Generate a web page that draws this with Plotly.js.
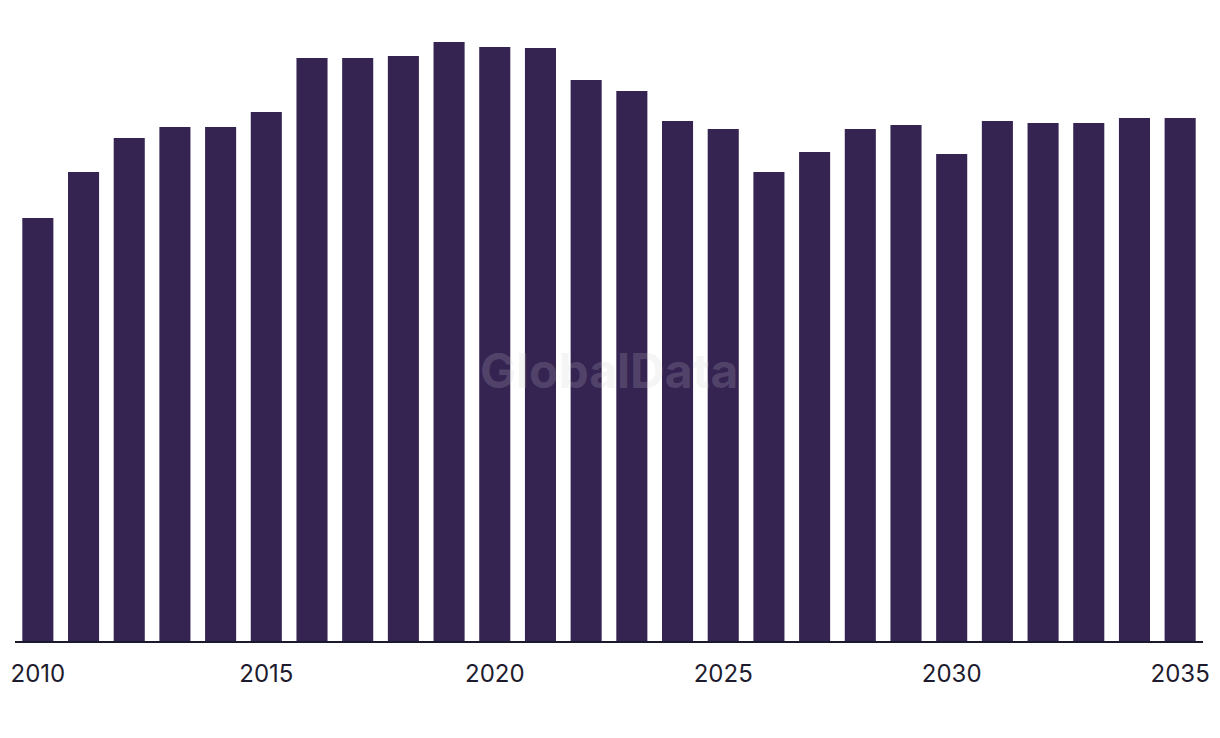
<!DOCTYPE html>
<html>
<head>
<meta charset="utf-8">
<script src="https://cdn.plot.ly/plotly-3.0.1.min.js"></script>
<style>html,body{margin:0;padding:0;background:#fff;}#chart{width:1220px;height:738px;}</style>
</head>
<body>
<div id="chart"></div>
<script>
const years = [2010,2011,2012,2013,2014,2015,2016,2017,2018,2019,2020,2021,2022,2023,2024,2025,2026,2027,2028,2029,2030,2031,2032,2033,2034,2035];
const values = [423,469,503,514,514,529,583,583,585,599,594,593,561,550,520,512,469,489,512,516,487,520,518,518,523,523];
const tickYears = [2010,2015,2020,2025,2030,2035];
const tickLabels = ["2010","2015","2020","2025","2030","2035"];

const trace = {
  type: 'bar',
  x: years,
  y: values,
  marker: {color: '#352352'},
  hoverinfo: 'x+y'
};
const layout = {
  width: 1220, height: 738,
  margin: {l: 15, r: 17, t: 20, b: 97},
  paper_bgcolor: '#ffffff',
  plot_bgcolor: '#ffffff',
  bargap: 0.32,
  showlegend: false,
  font: {family: 'Inter, "Noto Sans", sans-serif', color: '#1e1b2e'},
  xaxis: {
    range: [2009.5, 2035.5],
    tickvals: tickYears,
    ticktext: tickLabels,
    ticks: 'outside', ticklen: 11, tickcolor: 'rgba(0,0,0,0)',
    tickfont: {family: 'Inter, "Noto Sans", sans-serif', size: 24, color: '#1e1b2e'},
    showline: true, linecolor: '#1a1a2e', linewidth: 1.5,
    showgrid: false, zeroline: false, fixedrange: true
  },
  yaxis: {
    range: [0, 621],
    visible: false, showgrid: false, zeroline: false, fixedrange: true
  },
  annotations: [{
    text: '<b>GlobalData</b>',
    xref: 'paper', yref: 'paper', x: 0.5, y: 0.435,
    xanchor: 'center', yanchor: 'middle', showarrow: false,
    font: {family: 'Inter, "Noto Sans", sans-serif', size: 48, color: 'rgba(205,205,205,0.2)'}
  }]
};
Plotly.newPlot('chart', [trace], layout, {displayModeBar: false, staticPlot: true});
</script>
</body>
</html>
